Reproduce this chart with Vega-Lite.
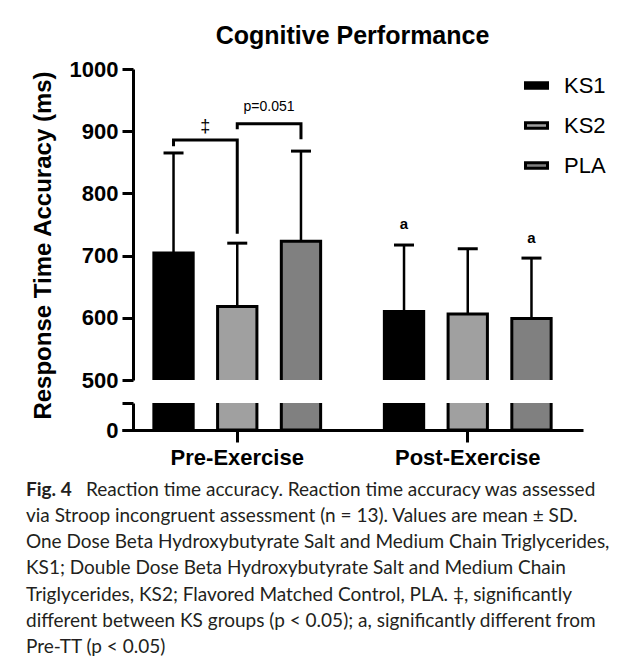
{
  "$schema": "https://vega.github.io/schema/vega-lite/v6.json",
  "background": "white",
  "padding": {"left": 26, "top": 24, "right": 2, "bottom": 0},
  "spacing": 23,
  "bounds": "flush",
  "config": {
    "view": {"stroke": null},
    "font": "Liberation Sans",
    "axis": {
      "domainColor": "black", "domainWidth": 3, "tickColor": "black", "tickWidth": 3,
      "labelColor": "black", "labelFont": "Liberation Sans", "labelFontWeight": "bold",
      "titleColor": "black", "titleFont": "Liberation Sans", "titleFontWeight": "bold", "grid": false
    }
  },
  "datasets": {
    "bars": [
      {"g": "Pre-Exercise", "s": "KS1", "m": 704, "u": 865},
      {"g": "Pre-Exercise", "s": "KS2", "m": 618, "u": 720},
      {"g": "Pre-Exercise", "s": "PLA", "m": 723, "u": 868},
      {"g": "Post-Exercise", "s": "KS1", "m": 610, "u": 717},
      {"g": "Post-Exercise", "s": "KS2", "m": 606, "u": 711},
      {"g": "Post-Exercise", "s": "PLA", "m": 599, "u": 696}
    ],
    "brackets": [
      {"b": "A", "o": 1, "g": "Pre-Exercise", "s": "KS1", "v": 876},
      {"b": "A", "o": 2, "g": "Pre-Exercise", "s": "KS1", "v": 886},
      {"b": "A", "o": 3, "g": "Pre-Exercise", "s": "KS2", "v": 886},
      {"b": "A", "o": 4, "g": "Pre-Exercise", "s": "KS2", "v": 735},
      {"b": "B", "o": 1, "g": "Pre-Exercise", "s": "KS2", "v": 903},
      {"b": "B", "o": 2, "g": "Pre-Exercise", "s": "KS2", "v": 912},
      {"b": "B", "o": 3, "g": "Pre-Exercise", "s": "PLA", "v": 912},
      {"b": "B", "o": 4, "g": "Pre-Exercise", "s": "PLA", "v": 887}
    ],
    "sig": [
      {"g": "Post-Exercise", "s": "KS1", "v": 751, "t": "a"},
      {"g": "Post-Exercise", "s": "PLA", "v": 728, "t": "a"}
    ],
    "between": [
      {"g": "Pre-Exercise", "s": "KS1", "v": 907, "t": "‡", "k": "dagger"},
      {"g": "Pre-Exercise", "s": "KS2", "v": 939, "t": "p=0.051", "k": "p"}
    ],
    "caption": [
      {"line": 1, "head": "Fig. 4", "text": "Reaction time accuracy. Reaction time accuracy was assessed"},
      {"line": 2, "head": "", "text": "via Stroop incongruent assessment (n = 13). Values are mean ± SD."},
      {"line": 3, "head": "", "text": "One Dose Beta Hydroxybutyrate Salt and Medium Chain Triglycerides,"},
      {"line": 4, "head": "", "text": "KS1; Double Dose Beta Hydroxybutyrate Salt and Medium Chain"},
      {"line": 5, "head": "", "text": "Triglycerides, KS2; Flavored Matched Control, PLA. ‡, significantly"},
      {"line": 6, "head": "", "text": "different between KS groups (p < 0.05); a, significantly different from"},
      {"line": 7, "head": "", "text": "Pre-TT (p < 0.05)"}
    ]
  },
  "resolve": {"scale": {"color": "independent"}, "legend": {"color": "independent"}},
  "vconcat": [
    {
      "width": 461, "height": 311,
      "title": {"text": "Cognitive Performance", "fontSize": 25, "fontWeight": "bold", "font": "Liberation Sans", "color": "black", "anchor": "middle", "frame": "group", "offset": 9},
      "data": {"name": "bars"},
      "layer": [
        {
          "mark": {"type": "bar", "stroke": "black", "strokeWidth": 3, "clip": true},
          "encoding": {
            "x": {"field": "g", "type": "nominal", "sort": ["Pre-Exercise", "Post-Exercise"], "scale": {"paddingInner": 0, "paddingOuter": 0}, "axis": null},
            "xOffset": {"field": "s", "type": "nominal", "sort": ["KS1", "KS2", "PLA"], "scale": {"paddingInner": 0.383, "paddingOuter": 0.5}},
            "y": {"field": "m", "type": "quantitative", "scale": {"domain": [500, 1000]},
                  "axis": {"values": [500, 600, 700, 800, 900, 1000], "format": "d", "offset": -11, "tickSize": 11, "labelPadding": 4, "labelFontSize": 22,
                           "title": "Response Time Accuracy (ms)", "titleFontSize": 24, "titlePadding": 14, "titleY": 176}},
            "y2": {"datum": 470},
            "color": {"field": "s", "type": "nominal", "scale": {"domain": ["KS1", "KS2", "PLA"], "range": ["#000000", "#a0a0a0", "#808080"]},
                      "legend": {"orient": "none", "legendX": 402, "legendY": 4, "title": null, "padding": 0,
                                 "symbolType": "M-1,-0.25H1V0.25H-1Z", "symbolSize": 484, "symbolStrokeColor": "black", "symbolStrokeWidth": 3, "symbolOpacity": 1,
                                 "labelFontSize": 22, "labelFont": "Liberation Sans", "labelColor": "black", "labelOffset": 15, "rowPadding": 16}}
          }
        },
        {
          "mark": {"type": "rule", "strokeWidth": 2.5, "color": "black"},
          "encoding": {
            "x": {"field": "g", "type": "nominal", "sort": ["Pre-Exercise", "Post-Exercise"]},
            "xOffset": {"field": "s", "type": "nominal", "sort": ["KS1", "KS2", "PLA"]},
            "y": {"field": "m", "type": "quantitative", "scale": {"domain": [500, 1000]}},
            "y2": {"field": "u"}
          }
        },
        {
          "mark": {"type": "tick", "size": 20, "thickness": 3, "color": "black", "opacity": 1},
          "encoding": {
            "x": {"field": "g", "type": "nominal", "sort": ["Pre-Exercise", "Post-Exercise"]},
            "xOffset": {"field": "s", "type": "nominal", "sort": ["KS1", "KS2", "PLA"]},
            "y": {"field": "u", "type": "quantitative", "scale": {"domain": [500, 1000]}}
          }
        },
        {
          "data": {"name": "brackets"},
          "mark": {"type": "line", "color": "black", "strokeWidth": 3, "strokeJoin": "miter"},
          "encoding": {
            "x": {"field": "g", "type": "nominal", "sort": ["Pre-Exercise", "Post-Exercise"]},
            "xOffset": {"field": "s", "type": "nominal", "sort": ["KS1", "KS2", "PLA"]},
            "y": {"field": "v", "type": "quantitative", "scale": {"domain": [500, 1000]}},
            "detail": {"field": "b"},
            "order": {"field": "o"}
          }
        },
        {
          "data": {"name": "sig"},
          "mark": {"type": "text", "fontSize": 15, "fontWeight": "bold", "font": "Liberation Sans", "color": "black", "baseline": "middle"},
          "encoding": {
            "x": {"field": "g", "type": "nominal", "sort": ["Pre-Exercise", "Post-Exercise"]},
            "xOffset": {"field": "s", "type": "nominal", "sort": ["KS1", "KS2", "PLA"]},
            "y": {"field": "v", "type": "quantitative", "scale": {"domain": [500, 1000]}},
            "text": {"field": "t"}
          }
        },
        {
          "data": {"name": "between"},
          "transform": [{"filter": "datum.k == 'dagger'"}],
          "mark": {"type": "text", "fontSize": 18, "font": "Liberation Sans", "color": "black", "baseline": "middle", "dx": 31.8},
          "encoding": {
            "x": {"field": "g", "type": "nominal", "sort": ["Pre-Exercise", "Post-Exercise"]},
            "xOffset": {"field": "s", "type": "nominal", "sort": ["KS1", "KS2", "PLA"]},
            "y": {"field": "v", "type": "quantitative", "scale": {"domain": [500, 1000]}},
            "text": {"field": "t"}
          }
        },
        {
          "data": {"name": "between"},
          "transform": [{"filter": "datum.k == 'p'"}],
          "mark": {"type": "text", "fontSize": 14, "font": "Liberation Sans", "color": "black", "baseline": "middle", "dx": 31.8},
          "encoding": {
            "x": {"field": "g", "type": "nominal", "sort": ["Pre-Exercise", "Post-Exercise"]},
            "xOffset": {"field": "s", "type": "nominal", "sort": ["KS1", "KS2", "PLA"]},
            "y": {"field": "v", "type": "quantitative", "scale": {"domain": [500, 1000]}},
            "text": {"field": "t"}
          }
        }
      ]
    },
    {
      "width": 461, "height": 27,
      "data": {"name": "bars"},
      "mark": {"type": "bar", "stroke": "black", "strokeWidth": 3, "clip": true},
      "encoding": {
        "x": {"field": "g", "type": "nominal", "sort": ["Pre-Exercise", "Post-Exercise"], "scale": {"paddingInner": 0, "paddingOuter": 0},
              "axis": {"title": null, "labelFontSize": 22, "labelPadding": 5, "tickSize": 12, "labelAngle": 0}},
        "xOffset": {"field": "s", "type": "nominal", "sort": ["KS1", "KS2", "PLA"], "scale": {"paddingInner": 0.383, "paddingOuter": 0.5}},
        "y": {"field": "m", "type": "quantitative", "scale": {"domain": [0, 50]},
              "axis": {"values": [0, 50], "labelExpr": "datum.value == 0 ? '0' : ''",
                       "labelFontSize": 22,
                       "offset": -11, "tickSize": 11, "labelPadding": 4, "title": null}},
        "y2": {"datum": 0},
        "color": {"field": "s", "type": "nominal", "scale": {"domain": ["KS1", "KS2", "PLA"], "range": ["#000000", "#a0a0a0", "#808080"]}, "legend": null}
      }
    },
    {
      "width": 461, "height": 207,
      "data": {"name": "caption"},
      "encoding": {
        "y": {"field": "line", "type": "ordinal", "scale": {"type": "point", "padding": 0.96, "align": 0.738}, "axis": null},
        "x": {"value": 0}
      },
      "layer": [
        {
          "mark": {"type": "text", "align": "left", "baseline": "middle", "font": "Lato", "fontSize": 19, "fontWeight": "bold", "color": "#231f20", "dx": -96},
          "encoding": {"text": {"field": "head"}}
        },
        {
          "transform": [{"filter": "datum.line == 1"}],
          "mark": {"type": "text", "align": "left", "baseline": "middle", "font": "Lato", "fontSize": 19, "color": "#231f20", "dx": -36},
          "encoding": {"text": {"field": "text"}}
        },
        {
          "transform": [{"filter": "datum.line > 1"}],
          "mark": {"type": "text", "align": "left", "baseline": "middle", "font": "Lato", "fontSize": 19, "color": "#231f20", "dx": -96},
          "encoding": {"text": {"field": "text"}}
        }
      ]
    }
  ]
}
